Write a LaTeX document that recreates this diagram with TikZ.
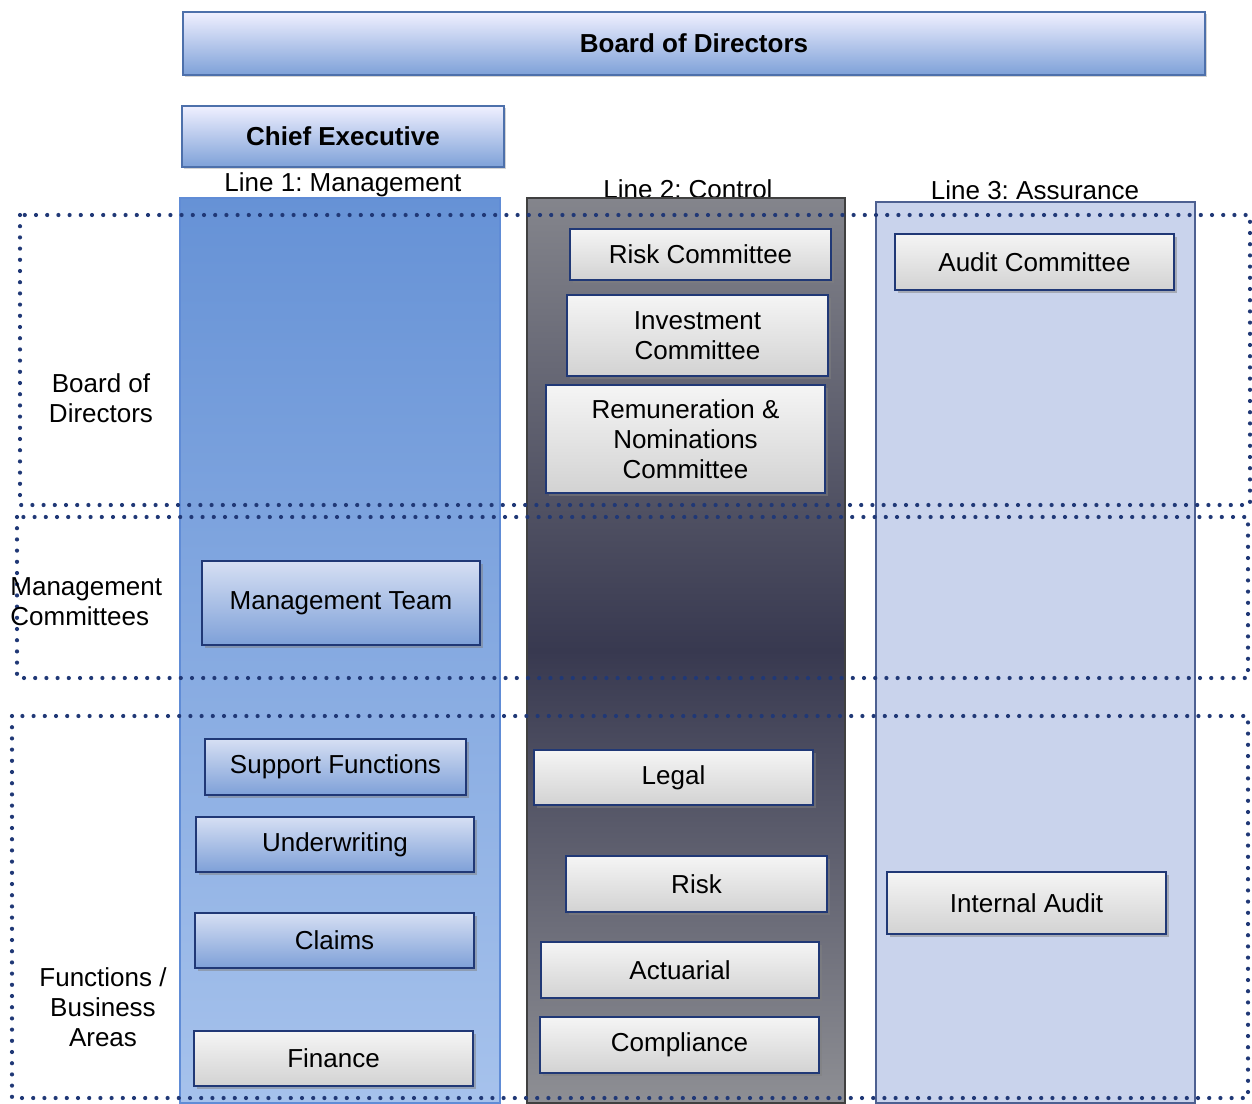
\documentclass[tikz,border=0pt]{standalone}
\usepackage{fontspec}
\setmainfont{Liberation Sans}
\usetikzlibrary{shadows}
\frenchspacing

\definecolor{navy}{RGB}{32,56,118}
\definecolor{lineblue}{RGB}{96,140,214}
\definecolor{assure}{RGB}{201,211,236}

\tikzstyle{every node}=[font=\fontsize{13}{15}\selectfont, align=center]
\tikzstyle{boardbar}=[draw=lineblue!80!black, line width=0.6pt, top color=blue!6!white, bottom color={rgb,255:red,126;green,161;blue,216}, drop shadow={shadow xshift=1.2pt, shadow yshift=-1.2pt, opacity=0.35}, font=\fontsize{13}{15}\selectfont\bfseries]
\tikzstyle{bluebox}=[draw=navy, line width=0.9pt, top color={rgb,255:red,214;green,223;blue,243}, bottom color={rgb,255:red,126;green,160;blue,216}, drop shadow={shadow xshift=1.5pt, shadow yshift=-1.5pt, opacity=0.5}]
\tikzstyle{greybox}=[draw=navy, line width=0.9pt, top color=gray!8, bottom color=gray!35, drop shadow={shadow xshift=1.5pt, shadow yshift=-1.5pt, opacity=0.5}]
\tikzstyle{band}=[draw=navy, line width=2.1pt, line cap=round, dash pattern=on 0pt off 5.6pt]

\begin{document}
\begin{tikzpicture}[x=0.5pt, y=-0.5pt]
\useasboundingbox (0,0) rectangle (1252,1103);

% top bars
\node [boardbar, minimum width=511pt, minimum height=31.5pt] (board) at (694,43.5) {Board of Directors};
\node [boardbar, minimum width=161pt, minimum height=30.5pt] (ceo) at (343,136.5) {Chief Executive};

% column titles
\node (l1) at (343,185) {Line 1: Management};
\node (l2) at (688,189) {Line 2: Control};
\node (l3) at (1035,190) {Line 3: Assurance};

% the three lines
\draw [draw=lineblue, line width=0.6pt, top color={rgb,255:red,102;green,146;blue,214}, bottom color={rgb,255:red,166;green,194;blue,236}] (180,198) rectangle (500,1103);
\draw [draw=black!75, line width=0.8pt, top color={rgb,255:red,132;green,133;blue,140}, bottom color={rgb,255:red,142;green,143;blue,148}, middle color={rgb,255:red,56;green,57;blue,80}] (527,198) rectangle (845,1103);
\draw [draw=navy!80, line width=0.8pt, fill=assure] (876,202) rectangle (1195,1103);

% dotted bands
\draw [band] (20,215) rectangle (1250,505);
\draw [band] (17,517) rectangle (1248,678);
\draw [band] (12,716) rectangle (1248,1098);

\node (bandbod) at (101,398) {Board of\\Directors};
\node [anchor=west, align=left, inner sep=0pt] (bandmgmt) at (10,602) {Management\\Committees};
\node (bandfunc) at (103,1007) {Functions /\\Business\\Areas};

% line 1
\node [bluebox, minimum width=139pt, minimum height=42pt] (mteam) at (341,603) {Management Team};
\node [bluebox, minimum width=130.5pt, minimum height=28pt] (support) at (335.5,767) {Support Functions};
\node [bluebox, minimum width=139pt, minimum height=27.5pt] (uw) at (335,844.5) {Underwriting};
\node [bluebox, minimum width=139.5pt, minimum height=27.5pt] (claims) at (334.5,940.5) {Claims};
\node [greybox, minimum width=139.5pt, minimum height=27.5pt] (finance) at (333.5,1058.5) {Finance};

% line 2
\node [greybox, minimum width=130.5pt, minimum height=25.5pt] (riskcom) at (700.5,254.5) {Risk Committee};
\node [greybox, minimum width=130.5pt, minimum height=40.5pt] (invest) at (697.5,335.5) {Investment\\Committee};
\node [greybox, minimum width=139.5pt, minimum height=54pt] (remun) at (685.5,439) {Remuneration \&\\Nominations\\Committee};
\node [greybox, minimum width=139.5pt, minimum height=27.5pt] (legal) at (673.5,777.5) {Legal};
\node [greybox, minimum width=130.5pt, minimum height=28pt] (risk) at (696.5,884) {Risk};
\node [greybox, minimum width=139pt, minimum height=28pt] (act) at (680,970) {Actuarial};
\node [greybox, minimum width=139.5pt, minimum height=28pt] (comp) at (679.5,1045) {Compliance};

% line 3
\node [greybox, minimum width=139.5pt, minimum height=28pt] (audcom) at (1034.5,262) {Audit Committee};
\node [greybox, minimum width=139.5pt, minimum height=31pt] (intaud) at (1026.5,903) {Internal Audit};

\end{tikzpicture}
\end{document}
